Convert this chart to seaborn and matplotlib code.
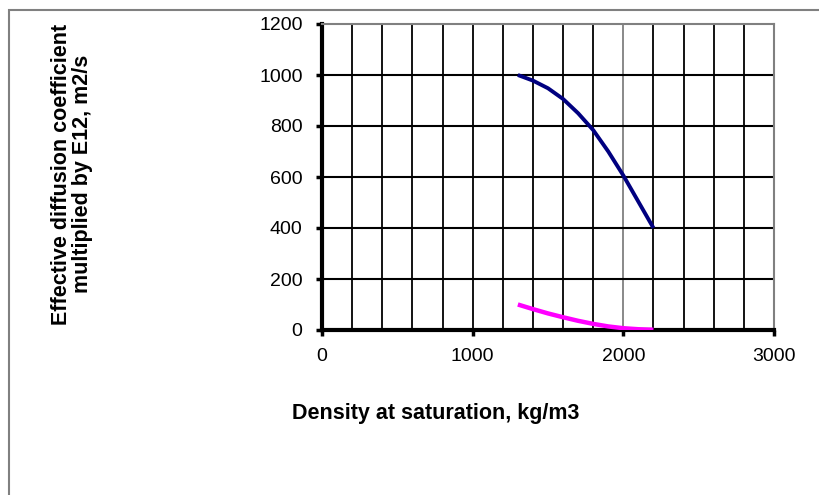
#!/usr/bin/env python3
import numpy as np
import pandas as pd
import matplotlib.pyplot as plt
import seaborn as sns
from matplotlib.patches import Rectangle

# Values
density = [1300, 1400, 1500, 1600, 1700, 1800, 1900, 2000, 2100, 2200]
upper_curve = [1000, 978, 948, 906, 850, 784, 700, 606, 503, 400]
lower_curve = [100, 82, 65, 50, 36, 24, 14, 7, 3, 1]
x_ticks = [0, 1000, 2000, 3000]
y_ticks = [0, 200, 400, 600, 800, 1000, 1200]

df = pd.concat([
    pd.DataFrame({"density": density, "value": upper_curve, "series": "upper"}),
    pd.DataFrame({"density": density, "value": lower_curve, "series": "lower"}),
], ignore_index=True)

sns.set_theme(style="white")
plt.rcParams["font.family"] = ["Liberation Sans", "DejaVu Sans"]
plt.rcParams["text.color"] = "black"

fig = plt.figure(figsize=(8.2, 4.95), dpi=100)
ax = fig.add_axes([322 / 820, 1 - 330 / 495, (774 - 322) / 820, (330 - 24) / 495])

# vertical grid every 200, horizontal every 200
for xv in np.arange(200, 3000, 200):
    ax.axvline(xv, color="#808080" if xv == 2000 else "black", lw=1.3, zorder=1)
for yv in y_ticks[1:-1]:
    ax.axhline(yv, color="black", lw=1.5, zorder=1)

sns.lineplot(data=df, x="density", y="value", hue="series",
             palette={"upper": "#000080", "lower": "#FF00FF"},
             linewidth=2.8, legend=False, ax=ax, zorder=3, solid_capstyle="butt")
ax.lines[-1].set_linewidth(3.2)

ax.set_xlim(0, 3000)
ax.set_ylim(0, 1200)
ax.set_xticks(x_ticks)
ax.set_yticks(y_ticks)
ax.tick_params(axis="both", direction="out", length=4, width=2.5, color="black",
               labelsize=14, labelcolor="black", bottom=True, left=True)
ax.tick_params(axis="y", pad=10)
ax.tick_params(axis="x", pad=9)

for side in ["left", "bottom"]:
    ax.spines[side].set_color("black")
    ax.spines[side].set_linewidth(3)
for side in ["top", "right"]:
    ax.spines[side].set_color("#808080")
    ax.spines[side].set_linewidth(1.5)

ax.set_xlabel("")
ax.set_ylabel("")
fig.text(436 / 820, 1 - 413 / 495, "Density at saturation, kg/m3",
         ha="center", va="center", fontsize=15.5, fontweight="bold", color="black")
fig.text(72 / 820, 1 - 174 / 495,
         "Effective diffusion coefficient\nmultiplied by E12, m2/s",
         ha="center", va="center", rotation=90, fontsize=15.5, fontweight="bold",
         linespacing=1.0, color="black")

# outer chart frame (only top and left visible in the reference)
fig.patches.append(Rectangle((9 / 820, -0.1), 1.2, 1 - 10 / 495 + 0.1,
                             transform=fig.transFigure, fill=False,
                             edgecolor="#808080", lw=1.5))

fig.savefig("out.png", dpi=100)
